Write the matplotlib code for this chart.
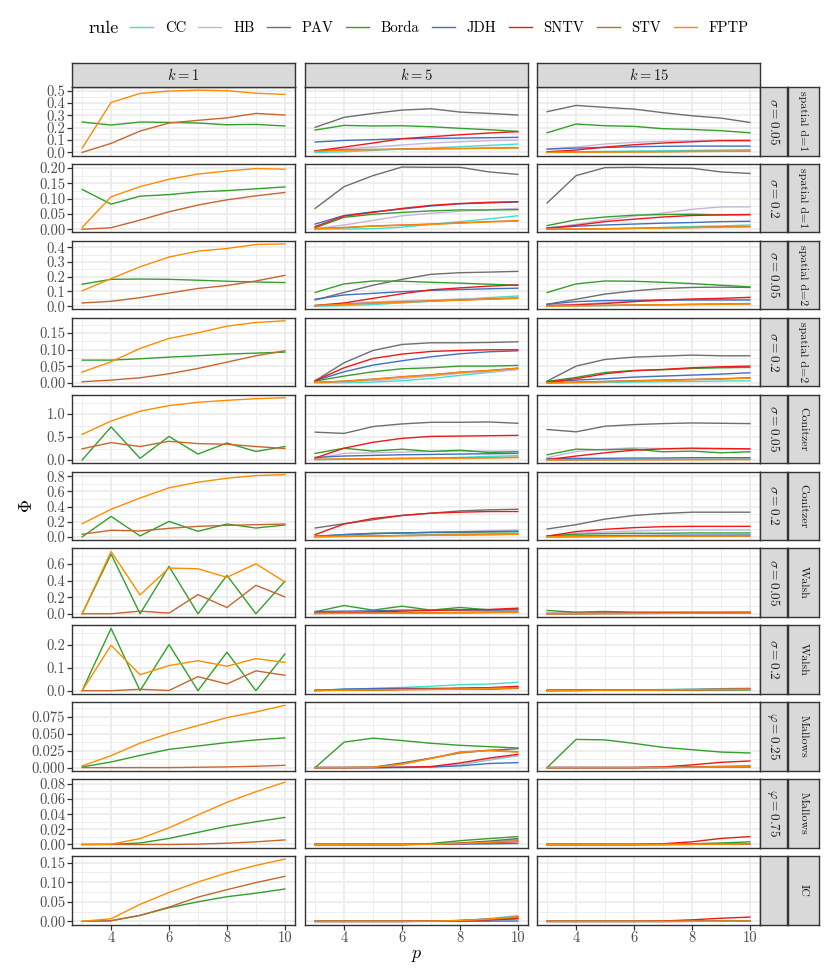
import numpy as np
import matplotlib
matplotlib.use("Agg")
import matplotlib.pyplot as plt
from matplotlib.lines import Line2D

plt.rcParams["font.family"] = ["cmr10", "DejaVu Serif"]
plt.rcParams["mathtext.fontset"] = "cm"
plt.rcParams["axes.formatter.use_mathtext"] = True

# number of candidates p
p_values = [3, 4, 5, 6, 7, 8, 9, 10]

rules = ["CC", "HB", "PAV", "Borda", "JDH", "SNTV", "STV", "FPTP"]
rule_colors = ["#40E0D0", "#C9B3DA", "#6E6E6E", "#33A02C",
               "#4070C0", "#F01818", "#C8662E", "#FF8C00"]

k_labels = ["$k = 1$", "$k = 5$", "$k = 15$"]

# ---- spatial d=1, sigma=0.05
sp1_s005_k1 = {
    "Borda": [0.246, 0.222, 0.246, 0.243, 0.238, 0.224, 0.227, 0.214],
    "STV": [0.0, 0.073, 0.173, 0.238, 0.26, 0.28, 0.316, 0.303],
    "FPTP": [0.035, 0.405, 0.478, 0.497, 0.505, 0.50, 0.48, 0.47],
}
sp1_s005_k5 = {
    "CC": [0.0, 0.005, 0.016, 0.027, 0.035, 0.046, 0.057, 0.068],
    "HB": [0.016, 0.03, 0.043, 0.06, 0.076, 0.086, 0.095, 0.1],
    "PAV": [0.203, 0.284, 0.316, 0.343, 0.354, 0.327, 0.316, 0.303],
    "Borda": [0.181, 0.219, 0.214, 0.216, 0.208, 0.195, 0.184, 0.17],
    "JDH": [0.084, 0.097, 0.103, 0.111, 0.114, 0.116, 0.119, 0.122],
    "SNTV": [0.011, 0.043, 0.076, 0.111, 0.127, 0.143, 0.157, 0.168],
    "STV": [0.011, 0.022, 0.024, 0.027, 0.03, 0.032, 0.035, 0.038],
    "FPTP": [0.008, 0.018, 0.022, 0.025, 0.028, 0.03, 0.033, 0.036],
}
sp1_s005_k15 = {
    "CC": [0.0, 0.005, 0.008, 0.011, 0.013, 0.016, 0.019, 0.022],
    "HB": [0.027, 0.043, 0.068, 0.081, 0.089, 0.095, 0.1, 0.103],
    "PAV": [0.33, 0.381, 0.365, 0.351, 0.322, 0.297, 0.278, 0.243],
    "Borda": [0.159, 0.23, 0.216, 0.211, 0.192, 0.186, 0.176, 0.159],
    "JDH": [0.027, 0.035, 0.04, 0.046, 0.049, 0.051, 0.051, 0.051],
    "SNTV": [0.005, 0.019, 0.043, 0.062, 0.076, 0.086, 0.095, 0.095],
    "STV": [0.0, 0.003, 0.004, 0.005, 0.006, 0.008, 0.009, 0.01],
    "FPTP": [0.0, 0.002, 0.003, 0.004, 0.005, 0.007, 0.008, 0.009],
}

# ---- spatial d=1, sigma=0.2
sp1_s02_k1 = {
    "Borda": [0.13, 0.082, 0.108, 0.113, 0.122, 0.126, 0.132, 0.138],
    "STV": [0.0, 0.005, 0.03, 0.057, 0.079, 0.096, 0.109, 0.12],
    "FPTP": [0.006, 0.106, 0.139, 0.163, 0.18, 0.19, 0.198, 0.196],
}
sp1_s02_k5 = {
    "CC": [0.001, 0.001, 0.002, 0.007, 0.016, 0.025, 0.034, 0.044],
    "HB": [0.002, 0.014, 0.029, 0.044, 0.052, 0.059, 0.064, 0.068],
    "PAV": [0.068, 0.139, 0.175, 0.203, 0.202, 0.202, 0.187, 0.179],
    "Borda": [0.005, 0.039, 0.049, 0.055, 0.06, 0.063, 0.063, 0.064],
    "JDH": [0.017, 0.045, 0.057, 0.066, 0.076, 0.083, 0.086, 0.089],
    "SNTV": [0.009, 0.043, 0.055, 0.068, 0.078, 0.084, 0.088, 0.09],
    "STV": [0.002, 0.006, 0.011, 0.014, 0.017, 0.021, 0.025, 0.028],
    "FPTP": [0.001, 0.005, 0.01, 0.013, 0.016, 0.02, 0.024, 0.027],
}
sp1_s02_k15 = {
    "CC": [0.0, 0.0, 0.001, 0.003, 0.006, 0.009, 0.011, 0.014],
    "HB": [0.004, 0.016, 0.03, 0.043, 0.053, 0.065, 0.073, 0.073],
    "PAV": [0.086, 0.175, 0.201, 0.202, 0.2, 0.199, 0.187, 0.182],
    "Borda": [0.012, 0.031, 0.04, 0.046, 0.048, 0.049, 0.047, 0.048],
    "JDH": [0.005, 0.01, 0.014, 0.017, 0.02, 0.022, 0.025, 0.026],
    "SNTV": [0.002, 0.013, 0.025, 0.033, 0.04, 0.045, 0.047, 0.048],
    "STV": [0.0, 0.001, 0.002, 0.003, 0.005, 0.006, 0.008, 0.009],
    "FPTP": [0.0, 0.001, 0.002, 0.003, 0.004, 0.005, 0.007, 0.008],
}

# ---- spatial d=2, sigma=0.05
sp2_s005_k1 = {
    "Borda": [0.149, 0.182, 0.184, 0.182, 0.176, 0.169, 0.164, 0.16],
    "STV": [0.022, 0.033, 0.058, 0.089, 0.12, 0.14, 0.171, 0.209],
    "FPTP": [0.104, 0.187, 0.267, 0.333, 0.373, 0.391, 0.418, 0.422],
}
sp2_s005_k5 = {
    "CC": [0.0, 0.004, 0.011, 0.022, 0.033, 0.047, 0.058, 0.069],
    "HB": [0.007, 0.018, 0.029, 0.036, 0.042, 0.049, 0.051, 0.053],
    "PAV": [0.042, 0.093, 0.142, 0.182, 0.216, 0.227, 0.231, 0.236],
    "Borda": [0.093, 0.151, 0.171, 0.169, 0.162, 0.156, 0.149, 0.142],
    "JDH": [0.047, 0.076, 0.087, 0.098, 0.107, 0.113, 0.118, 0.122],
    "SNTV": [0.004, 0.022, 0.053, 0.084, 0.111, 0.124, 0.136, 0.144],
    "STV": [0.004, 0.013, 0.022, 0.029, 0.036, 0.042, 0.049, 0.056],
    "FPTP": [0.003, 0.012, 0.02, 0.027, 0.034, 0.04, 0.047, 0.054],
}
sp2_s005_k15 = {
    "CC": [0.0, 0.002, 0.004, 0.007, 0.009, 0.013, 0.016, 0.018],
    "HB": [0.004, 0.013, 0.024, 0.033, 0.038, 0.042, 0.044, 0.047],
    "PAV": [0.013, 0.047, 0.082, 0.104, 0.12, 0.127, 0.129, 0.127],
    "Borda": [0.093, 0.151, 0.171, 0.169, 0.162, 0.153, 0.142, 0.131],
    "JDH": [0.013, 0.031, 0.038, 0.04, 0.042, 0.042, 0.042, 0.042],
    "SNTV": [0.004, 0.009, 0.018, 0.031, 0.042, 0.049, 0.053, 0.06],
    "STV": [0.002, 0.004, 0.006, 0.008, 0.01, 0.012, 0.014, 0.016],
    "FPTP": [0.001, 0.003, 0.005, 0.007, 0.009, 0.011, 0.013, 0.015],
}

# ---- spatial d=2, sigma=0.2
sp2_s02_k1 = {
    "Borda": [0.069, 0.069, 0.073, 0.078, 0.082, 0.087, 0.09, 0.093],
    "STV": [0.004, 0.009, 0.016, 0.028, 0.044, 0.063, 0.082, 0.097],
    "FPTP": [0.033, 0.064, 0.104, 0.134, 0.151, 0.171, 0.182, 0.187],
}
sp2_s02_k5 = {
    "CC": [0.001, 0.001, 0.003, 0.007, 0.014, 0.023, 0.032, 0.042],
    "HB": [0.002, 0.004, 0.007, 0.013, 0.021, 0.029, 0.034, 0.04],
    "PAV": [0.007, 0.061, 0.098, 0.116, 0.121, 0.121, 0.122, 0.124],
    "Borda": [0.006, 0.021, 0.034, 0.043, 0.046, 0.051, 0.051, 0.053],
    "JDH": [0.007, 0.034, 0.054, 0.067, 0.079, 0.088, 0.094, 0.097],
    "SNTV": [0.007, 0.046, 0.074, 0.087, 0.095, 0.098, 0.1, 0.1],
    "STV": [0.002, 0.006, 0.012, 0.019, 0.025, 0.033, 0.038, 0.045],
    "FPTP": [0.002, 0.005, 0.011, 0.018, 0.024, 0.032, 0.037, 0.044],
}
sp2_s02_k15 = {
    "CC": [0.0, 0.001, 0.002, 0.003, 0.004, 0.005, 0.006, 0.007],
    "HB": [0.001, 0.003, 0.005, 0.007, 0.009, 0.011, 0.013, 0.015],
    "PAV": [0.006, 0.051, 0.071, 0.078, 0.081, 0.084, 0.082, 0.082],
    "Borda": [0.005, 0.017, 0.032, 0.038, 0.04, 0.044, 0.046, 0.047],
    "JDH": [0.003, 0.009, 0.013, 0.018, 0.021, 0.024, 0.027, 0.031],
    "SNTV": [0.003, 0.013, 0.028, 0.037, 0.041, 0.046, 0.049, 0.051],
    "STV": [0.001, 0.003, 0.005, 0.007, 0.009, 0.011, 0.013, 0.016],
    "FPTP": [0.001, 0.002, 0.004, 0.006, 0.008, 0.01, 0.012, 0.015],
}

# ---- Conitzer, sigma=0.05
con_s005_k1 = {
    "Borda": [0.0, 0.721, 0.036, 0.514, 0.129, 0.371, 0.186, 0.293],
    "STV": [0.243, 0.379, 0.293, 0.407, 0.357, 0.343, 0.293, 0.25],
    "FPTP": [0.557, 0.85, 1.064, 1.186, 1.257, 1.3, 1.336, 1.357],
}
con_s005_k5 = {
    "CC": [0.007, 0.014, 0.021, 0.029, 0.043, 0.057, 0.079, 0.093],
    "HB": [0.029, 0.143, 0.157, 0.171, 0.186, 0.193, 0.193, 0.193],
    "PAV": [0.607, 0.579, 0.729, 0.786, 0.821, 0.821, 0.829, 0.8],
    "Borda": [0.143, 0.257, 0.193, 0.236, 0.186, 0.214, 0.164, 0.179],
    "JDH": [0.057, 0.086, 0.1, 0.114, 0.121, 0.129, 0.136, 0.143],
    "SNTV": [0.043, 0.257, 0.386, 0.471, 0.514, 0.521, 0.529, 0.536],
    "STV": [0.014, 0.021, 0.029, 0.036, 0.036, 0.043, 0.05, 0.057],
    "FPTP": [0.01, 0.017, 0.025, 0.032, 0.033, 0.04, 0.047, 0.054],
}
con_s005_k15 = {
    "CC": [0.005, 0.008, 0.01, 0.012, 0.014, 0.016, 0.018, 0.02],
    "HB": [0.05, 0.186, 0.236, 0.264, 0.25, 0.25, 0.243, 0.236],
    "PAV": [0.664, 0.614, 0.736, 0.771, 0.793, 0.807, 0.8, 0.793],
    "Borda": [0.114, 0.236, 0.221, 0.236, 0.179, 0.193, 0.157, 0.179],
    "JDH": [0.029, 0.036, 0.036, 0.043, 0.043, 0.05, 0.05, 0.05],
    "SNTV": [0.007, 0.086, 0.157, 0.214, 0.243, 0.257, 0.25, 0.243],
    "STV": [0.003, 0.005, 0.006, 0.007, 0.008, 0.009, 0.01, 0.011],
    "FPTP": [0.002, 0.004, 0.005, 0.006, 0.007, 0.008, 0.009, 0.01],
}

# ---- Conitzer, sigma=0.2
con_s02_k1 = {
    "Borda": [0.0, 0.27, 0.013, 0.204, 0.074, 0.17, 0.117, 0.157],
    "STV": [0.035, 0.087, 0.078, 0.113, 0.139, 0.152, 0.161, 0.17],
    "FPTP": [0.174, 0.365, 0.513, 0.648, 0.722, 0.774, 0.809, 0.822],
}
con_s02_k5 = {
    "CC": [0.0, 0.004, 0.013, 0.022, 0.03, 0.039, 0.043, 0.048],
    "HB": [0.009, 0.026, 0.039, 0.052, 0.061, 0.07, 0.083, 0.091],
    "PAV": [0.117, 0.174, 0.226, 0.283, 0.313, 0.343, 0.357, 0.365],
    "Borda": [0.004, 0.03, 0.048, 0.052, 0.057, 0.061, 0.065, 0.07],
    "JDH": [0.009, 0.03, 0.043, 0.052, 0.061, 0.065, 0.07, 0.074],
    "SNTV": [0.03, 0.17, 0.243, 0.283, 0.313, 0.326, 0.335, 0.335],
    "STV": [0.004, 0.009, 0.013, 0.017, 0.022, 0.026, 0.03, 0.035],
    "FPTP": [0.003, 0.008, 0.012, 0.016, 0.021, 0.025, 0.029, 0.034],
}
con_s02_k15 = {
    "CC": [0.0, 0.003, 0.006, 0.009, 0.011, 0.013, 0.014, 0.015],
    "HB": [0.009, 0.048, 0.065, 0.078, 0.087, 0.091, 0.091, 0.091],
    "PAV": [0.104, 0.161, 0.235, 0.283, 0.309, 0.326, 0.326, 0.326],
    "Borda": [0.013, 0.035, 0.043, 0.048, 0.048, 0.052, 0.052, 0.052],
    "JDH": [0.005, 0.012, 0.016, 0.019, 0.021, 0.023, 0.024, 0.025],
    "SNTV": [0.009, 0.07, 0.1, 0.122, 0.135, 0.139, 0.139, 0.139],
    "STV": [0.002, 0.004, 0.006, 0.008, 0.01, 0.011, 0.012, 0.013],
    "FPTP": [0.001, 0.003, 0.005, 0.007, 0.009, 0.01, 0.011, 0.012],
}

# ---- Walsh, sigma=0.05
wal_s005_k1 = {
    "Borda": [0.0, 0.72, 0.0, 0.572, 0.0, 0.464, 0.0, 0.392],
    "STV": [0.0, 0.0, 0.032, 0.008, 0.232, 0.076, 0.344, 0.204],
    "FPTP": [0.0, 0.752, 0.228, 0.552, 0.544, 0.44, 0.604, 0.384],
}
wal_s005_k5 = {
    "CC": [0.004, 0.006, 0.008, 0.01, 0.012, 0.014, 0.016, 0.018],
    "HB": [0.005, 0.008, 0.01, 0.012, 0.014, 0.016, 0.018, 0.02],
    "PAV": [0.006, 0.008, 0.01, 0.012, 0.014, 0.016, 0.018, 0.02],
    "Borda": [0.024, 0.1, 0.044, 0.092, 0.044, 0.076, 0.048, 0.052],
    "JDH": [0.028, 0.032, 0.036, 0.044, 0.044, 0.044, 0.044, 0.048],
    "SNTV": [0.008, 0.012, 0.024, 0.032, 0.04, 0.048, 0.052, 0.068],
    "STV": [0.004, 0.006, 0.008, 0.01, 0.012, 0.014, 0.016, 0.018],
    "FPTP": [0.003, 0.005, 0.007, 0.009, 0.011, 0.013, 0.015, 0.017],
}
wal_s005_k15 = {
    "CC": [0.002, 0.003, 0.004, 0.005, 0.006, 0.007, 0.008, 0.009],
    "HB": [0.002, 0.003, 0.004, 0.005, 0.006, 0.007, 0.008, 0.009],
    "PAV": [0.003, 0.004, 0.005, 0.006, 0.007, 0.008, 0.009, 0.01],
    "Borda": [0.04, 0.02, 0.028, 0.02, 0.02, 0.02, 0.02, 0.02],
    "JDH": [0.002, 0.003, 0.004, 0.005, 0.006, 0.007, 0.008, 0.009],
    "SNTV": [0.004, 0.004, 0.006, 0.008, 0.01, 0.012, 0.014, 0.016],
    "STV": [0.001, 0.002, 0.003, 0.004, 0.005, 0.006, 0.007, 0.008],
    "FPTP": [0.001, 0.002, 0.003, 0.004, 0.005, 0.006, 0.007, 0.008],
}

# ---- Walsh, sigma=0.2
wal_s02_k1 = {
    "Borda": [0.0, 0.27, 0.0, 0.2, 0.0, 0.167, 0.0, 0.159],
    "STV": [0.0, 0.0, 0.006, 0.001, 0.061, 0.029, 0.086, 0.067],
    "FPTP": [0.0, 0.197, 0.069, 0.109, 0.13, 0.106, 0.139, 0.123],
}
wal_s02_k5 = {
    "CC": [0.001, 0.006, 0.01, 0.014, 0.019, 0.026, 0.029, 0.036],
    "HB": [0.001, 0.003, 0.004, 0.005, 0.006, 0.007, 0.008, 0.009],
    "PAV": [0.001, 0.003, 0.004, 0.006, 0.007, 0.008, 0.01, 0.012],
    "Borda": [0.001, 0.003, 0.004, 0.006, 0.006, 0.009, 0.006, 0.011],
    "JDH": [0.001, 0.007, 0.009, 0.01, 0.01, 0.011, 0.013, 0.014],
    "SNTV": [0.001, 0.003, 0.004, 0.006, 0.007, 0.01, 0.013, 0.019],
    "STV": [0.001, 0.002, 0.003, 0.005, 0.006, 0.008, 0.01, 0.013],
    "FPTP": [0.001, 0.002, 0.003, 0.004, 0.005, 0.007, 0.009, 0.012],
}
wal_s02_k15 = {
    "CC": [0.001, 0.002, 0.003, 0.004, 0.005, 0.007, 0.009, 0.011],
    "HB": [0.001, 0.001, 0.002, 0.002, 0.003, 0.003, 0.004, 0.004],
    "PAV": [0.001, 0.001, 0.002, 0.002, 0.003, 0.003, 0.004, 0.005],
    "Borda": [0.001, 0.001, 0.002, 0.002, 0.003, 0.003, 0.004, 0.004],
    "JDH": [0.001, 0.002, 0.002, 0.003, 0.003, 0.004, 0.005, 0.006],
    "SNTV": [0.001, 0.002, 0.002, 0.003, 0.004, 0.005, 0.006, 0.007],
    "STV": [0.001, 0.001, 0.002, 0.002, 0.003, 0.004, 0.005, 0.006],
    "FPTP": [0.001, 0.001, 0.002, 0.002, 0.003, 0.004, 0.005, 0.006],
}

# ---- Mallows, phi=0.25
mal_025_k1 = {
    "Borda": [0.001, 0.0083, 0.018, 0.027, 0.032, 0.037, 0.041, 0.044],
    "STV": [0.0, 0.0, 0.0, 0.0, 0.0005, 0.001, 0.002, 0.0034],
    "FPTP": [0.0025, 0.0176, 0.0363, 0.0505, 0.0623, 0.074, 0.0824, 0.0922],
}
mal_025_k5 = {
    "CC": [0.0, 0.0, 0.0, 0.0, 0.0005, 0.004, 0.011, 0.0176],
    "HB": [0.0, 0.0, 0.0, 0.0, 0.0008, 0.005, 0.012, 0.018],
    "PAV": [0.0, 0.0, 0.0005, 0.0069, 0.014, 0.0216, 0.0255, 0.028],
    "Borda": [0.0, 0.0377, 0.0436, 0.04, 0.036, 0.033, 0.031, 0.029],
    "JDH": [0.0, 0.0, 0.0, 0.0005, 0.001, 0.0025, 0.006, 0.0074],
    "SNTV": [0.0, 0.0, 0.0, 0.0005, 0.0015, 0.0069, 0.014, 0.0196],
    "STV": [0.0, 0.0, 0.0005, 0.0054, 0.0137, 0.023, 0.0255, 0.0235],
    "FPTP": [0.0, 0.0, 0.0004, 0.005, 0.0133, 0.0226, 0.025, 0.023],
}
mal_025_k15 = {
    "CC": [0.0, 0.0, 0.0, 0.0, 0.0, 0.0003, 0.0006, 0.001],
    "HB": [0.0, 0.0, 0.0, 0.0, 0.0003, 0.0006, 0.001, 0.0015],
    "PAV": [0.0, 0.0, 0.0, 0.0, 0.0003, 0.001, 0.0018, 0.0025],
    "Borda": [0.0, 0.0417, 0.041, 0.0358, 0.03, 0.0265, 0.023, 0.0216],
    "JDH": [0.0, 0.0, 0.0, 0.0, 0.0002, 0.0005, 0.0008, 0.001],
    "SNTV": [0.0, 0.0, 0.0, 0.0, 0.001, 0.004, 0.0078, 0.0098],
    "STV": [0.0, 0.0, 0.0, 0.0, 0.0002, 0.0005, 0.001, 0.0015],
    "FPTP": [0.0, 0.0, 0.0, 0.0, 0.0002, 0.0005, 0.001, 0.0015],
}

# ---- Mallows, phi=0.75
mal_075_k1 = {
    "Borda": [0.0, 0.0002, 0.002, 0.008, 0.016, 0.024, 0.03, 0.0357],
    "STV": [0.0, 0.0, 0.0, 0.0, 0.0005, 0.0017, 0.0035, 0.006],
    "FPTP": [0.0, 0.0004, 0.0078, 0.022, 0.039, 0.0557, 0.0696, 0.0822],
}
mal_075_k5 = {
    "CC": [0.0, 0.0, 0.0, 0.0, 0.0005, 0.0015, 0.0035, 0.0065],
    "HB": [0.0, 0.0, 0.0, 0.0, 0.0003, 0.001, 0.002, 0.004],
    "PAV": [0.0, 0.0, 0.0, 0.0, 0.0008, 0.002, 0.0045, 0.0078],
    "Borda": [0.0, 0.0, 0.0, 0.0, 0.0013, 0.005, 0.0078, 0.0104],
    "JDH": [0.0, 0.0, 0.0, 0.0, 0.0002, 0.0005, 0.0008, 0.0013],
    "SNTV": [0.0, 0.0, 0.0, 0.0, 0.0003, 0.001, 0.0025, 0.0039],
    "STV": [0.0, 0.0, 0.0, 0.0, 0.0005, 0.0015, 0.003, 0.0048],
    "FPTP": [0.0, 0.0, 0.0, 0.0, 0.0004, 0.0013, 0.0028, 0.0046],
}
mal_075_k15 = {
    "CC": [0.0, 0.0, 0.0, 0.0, 0.0, 0.0002, 0.0004, 0.0006],
    "HB": [0.0, 0.0, 0.0, 0.0, 0.0, 0.0002, 0.0004, 0.0006],
    "PAV": [0.0, 0.0, 0.0, 0.0, 0.0001, 0.0003, 0.0005, 0.0008],
    "Borda": [0.0, 0.0, 0.0, 0.0, 0.0003, 0.001, 0.002, 0.0035],
    "JDH": [0.0, 0.0, 0.0, 0.0, 0.0, 0.0001, 0.0002, 0.0003],
    "SNTV": [0.0, 0.0, 0.0, 0.0, 0.001, 0.0035, 0.008, 0.0104],
    "STV": [0.0, 0.0, 0.0, 0.0, 0.0001, 0.0002, 0.0004, 0.0006],
    "FPTP": [0.0, 0.0, 0.0, 0.0, 0.0001, 0.0002, 0.0004, 0.0006],
}

# ---- IC
ic_k1 = {
    "Borda": [0.0, 0.0017, 0.0153, 0.035, 0.05, 0.063, 0.072, 0.0827],
    "STV": [0.0, 0.0017, 0.0153, 0.0366, 0.062, 0.081, 0.099, 0.115],
    "FPTP": [0.0, 0.0068, 0.0435, 0.074, 0.1006, 0.1236, 0.143, 0.159],
}
ic_k5 = {
    "CC": [0.0, 0.0, 0.0, 0.0, 0.0005, 0.002, 0.007, 0.0145],
    "HB": [0.0, 0.0, 0.0, 0.0, 0.0002, 0.001, 0.003, 0.006],
    "PAV": [0.0, 0.0, 0.0, 0.0, 0.0003, 0.0015, 0.004, 0.008],
    "Borda": [0.0, 0.0, 0.0, 0.0, 0.0005, 0.002, 0.005, 0.01],
    "JDH": [0.0, 0.0, 0.0, 0.0, 0.0, 0.0003, 0.0006, 0.001],
    "SNTV": [0.0, 0.0, 0.0, 0.0, 0.0003, 0.0015, 0.004, 0.007],
    "STV": [0.0, 0.0, 0.0, 0.0, 0.0005, 0.0025, 0.006, 0.012],
    "FPTP": [0.0, 0.0, 0.0, 0.0, 0.0004, 0.0023, 0.0057, 0.0115],
}
ic_k15 = {
    "CC": [0.0, 0.0, 0.0, 0.0, 0.0, 0.0002, 0.0004, 0.0007],
    "HB": [0.0, 0.0, 0.0, 0.0, 0.0, 0.0002, 0.0004, 0.0006],
    "PAV": [0.0, 0.0, 0.0, 0.0, 0.0, 0.0002, 0.0004, 0.0006],
    "Borda": [0.0, 0.0, 0.0, 0.0, 0.0, 0.0002, 0.0004, 0.0006],
    "JDH": [0.0, 0.0, 0.0, 0.0, 0.0, 0.0001, 0.0002, 0.0003],
    "SNTV": [0.0, 0.0, 0.0, 0.0, 0.001, 0.004, 0.008, 0.011],
    "STV": [0.0, 0.0, 0.0, 0.0, 0.0, 0.0002, 0.0004, 0.0006],
    "FPTP": [0.0, 0.0, 0.0, 0.0, 0.0, 0.0002, 0.0004, 0.0006],
}

# facet rows: inner label, outer label, panels, y breaks, decimals
facet_rows = [
    (r"$\sigma = 0.05$", "spatial d=1", [sp1_s005_k1, sp1_s005_k5, sp1_s005_k15], [0, 0.1, 0.2, 0.3, 0.4, 0.5], 1),
    (r"$\sigma = 0.2$", "spatial d=1", [sp1_s02_k1, sp1_s02_k5, sp1_s02_k15], [0, 0.05, 0.10, 0.15, 0.20], 2),
    (r"$\sigma = 0.05$", "spatial d=2", [sp2_s005_k1, sp2_s005_k5, sp2_s005_k15], [0, 0.1, 0.2, 0.3, 0.4], 1),
    (r"$\sigma = 0.2$", "spatial d=2", [sp2_s02_k1, sp2_s02_k5, sp2_s02_k15], [0, 0.05, 0.10, 0.15], 2),
    (r"$\sigma = 0.05$", "Conitzer", [con_s005_k1, con_s005_k5, con_s005_k15], [0, 0.5, 1.0], 1),
    (r"$\sigma = 0.2$", "Conitzer", [con_s02_k1, con_s02_k5, con_s02_k15], [0, 0.2, 0.4, 0.6, 0.8], 1),
    (r"$\sigma = 0.05$", "Walsh", [wal_s005_k1, wal_s005_k5, wal_s005_k15], [0, 0.2, 0.4, 0.6], 1),
    (r"$\sigma = 0.2$", "Walsh", [wal_s02_k1, wal_s02_k5, wal_s02_k15], [0, 0.1, 0.2], 1),
    (r"$\varphi = 0.25$", "Mallows", [mal_025_k1, mal_025_k5, mal_025_k15], [0, 0.025, 0.050, 0.075], 3),
    (r"$\varphi = 0.75$", "Mallows", [mal_075_k1, mal_075_k5, mal_075_k15], [0, 0.02, 0.04, 0.06, 0.08], 2),
    ("", "IC", [ic_k1, ic_k5, ic_k15], [0, 0.05, 0.10, 0.15], 2),
]

W, H = 830, 969
fig = plt.figure(figsize=(W / 100, H / 100), dpi=100)


def rect(x0, y0, w, h):
    return [x0 / W, 1 - (y0 + h) / H, w / W, h / H]


col_x = [72, 305, 537]
col_w = 223
row_top = 87
row_step = 76.9
row_h = 68.5
border = "#333333"
grid_major = "#EBEBEB"
strip_fill = "#D9D9D9"
base = 10.5


def strip(x0, y0, w, h, text, rot, size):
    sax = fig.add_axes(rect(x0, y0, w, h))
    sax.set_xticks([])
    sax.set_yticks([])
    sax.set_facecolor(strip_fill)
    for s in sax.spines.values():
        s.set_color(border)
        s.set_linewidth(1.0)
    sax.text(0.5, 0.5, text, transform=sax.transAxes, ha="center",
             va="center", rotation=rot, fontsize=size, color="#1A1A1A")


n_rows = len(facet_rows)
for i, (lab_in, lab_out, panels, ybreaks, dec) in enumerate(facet_rows):
    y0 = row_top + row_step * i
    allv = np.concatenate([np.array(v) for pn in panels for v in pn.values()])
    lo, hi = allv.min(), allv.max()
    pad = 0.05 * (hi - lo)
    ylim = (lo - pad, hi + pad)
    step = ybreaks[1] - ybreaks[0]
    minor = [b + step / 2 for b in [ybreaks[0] - step] + ybreaks
             if ylim[0] <= b + step / 2 <= ylim[1]]
    for j, pn in enumerate(panels):
        ax = fig.add_axes(rect(col_x[j], y0, col_w, row_h))
        ax.set_xlim(2.65, 10.35)
        ax.set_ylim(*ylim)
        for xv in [3, 5, 7, 9]:
            ax.axvline(xv, color=grid_major, lw=0.6, zorder=0)
        for xv in [4, 6, 8, 10]:
            ax.axvline(xv, color=grid_major, lw=1.2, zorder=0)
        for yv in minor:
            ax.axhline(yv, color=grid_major, lw=0.6, zorder=0)
        for yv in ybreaks:
            ax.axhline(yv, color=grid_major, lw=1.2, zorder=0)
        for r, c in zip(rules, rule_colors):
            if r in pn:
                ax.plot(p_values, pn[r], color=c, lw=1.0, zorder=2)
        for s in ax.spines.values():
            s.set_color(border)
            s.set_linewidth(1.0)
        ax.set_xticks([4, 6, 8, 10])
        ax.set_yticks(ybreaks)
        ax.tick_params(length=3.3, width=0.9, color=border, labelcolor="#4D4D4D",
                       labelsize=base, pad=1.5)
        if j == 0:
            ax.set_yticklabels([f"{b:.{dec}f}" for b in ybreaks])
        else:
            ax.tick_params(axis="y", length=0, labelleft=False)
        if i == n_rows - 1:
            ax.set_xticklabels([str(t) for t in [4, 6, 8, 10]])
        else:
            ax.tick_params(axis="x", length=0, labelbottom=False)
        if i == 0:
            strip(col_x[j], row_top - 24, col_w, 24, k_labels[j], 0, base)
    strip(col_x[2] + col_w, y0, 27, row_h, lab_in, -90, 9.5)
    strip(col_x[2] + col_w + 28, y0, 31, row_h, lab_out, -90, 8.6)

fig.text(27 / W, 1 - 506 / H, r"$\Phi$", fontsize=13, ha="center",
         va="center", rotation=90)
fig.text(417 / W, 1 - 956 / H, r"$p$", fontsize=13, ha="center", va="center")

handles = [Line2D([], [], color=c, lw=1.0) for c in rule_colors]
fig.text(89 / W, 1 - 28 / H, "rule", fontsize=13, va="center", ha="left")
fig.legend(handles, rules, ncol=8, loc="center left",
           bbox_to_anchor=(130 / W, 1 - 28 / H), frameon=False, fontsize=base,
           handlelength=1.58, handletextpad=0.8, columnspacing=0.85,
           borderaxespad=0, borderpad=0)

fig.savefig("out.png", dpi=100)
